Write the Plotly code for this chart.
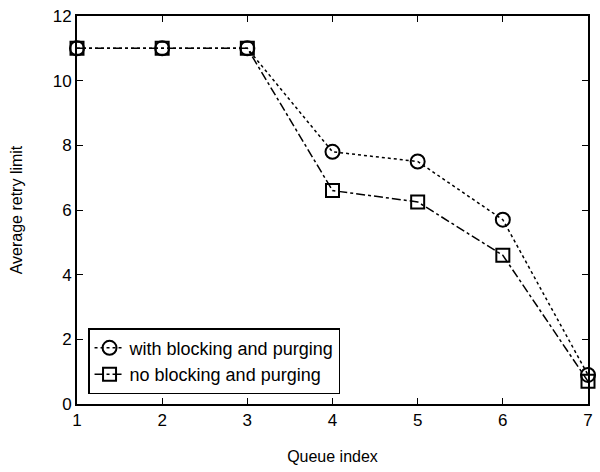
import plotly.graph_objects as go

queue_index = [1, 2, 3, 4, 5, 6, 7]
with_blocking = [11, 11, 11, 7.8, 7.5, 5.7, 0.9]
no_blocking = [11, 11, 11, 6.6, 6.25, 4.6, 0.7]

fig = go.Figure()
fig.add_trace(go.Scatter(
    x=queue_index, y=with_blocking, mode="lines+markers",
    name="with blocking and purging",
    line=dict(color="black", width=1.5, dash="dot"),
    marker=dict(symbol="circle-open", size=14, color="black", line=dict(width=2)),
    cliponaxis=False,
))
fig.add_trace(go.Scatter(
    x=queue_index, y=no_blocking, mode="lines+markers",
    name="no blocking and purging",
    line=dict(color="black", width=1.5, dash="dashdot"),
    marker=dict(symbol="square-open", size=13, color="black", line=dict(width=2)),
    cliponaxis=False,
))

axis_common = dict(
    showgrid=False, zeroline=False, showline=True, linecolor="black", linewidth=1.8,
    mirror="ticks", ticks="inside", ticklen=6, tickcolor="black", tickwidth=1.3,
    tickfont=dict(family="Liberation Sans, Arial", size=17, color="black"),
)
fig.update_layout(
    width=600, height=472,
    margin=dict(l=77, r=7, t=15, b=68),
    paper_bgcolor="white", plot_bgcolor="white",
    font=dict(family="Liberation Sans, Arial", color="black", size=16),
    xaxis=dict(range=[1, 7], tickvals=queue_index, **axis_common,
               title=dict(text="Queue index", font=dict(size=16), standoff=22)),
    yaxis=dict(range=[0, 12], tickvals=[0, 2, 4, 6, 8, 10, 12], **axis_common,
               title=dict(text="Average retry limit", font=dict(size=16), standoff=26)),
    legend=dict(x=0.022, y=0.025, xanchor="left", yanchor="bottom",
                bgcolor="white", bordercolor="black", borderwidth=1.3,
                font=dict(size=18), tracegroupgap=0, itemwidth=30),
    showlegend=True,
)
fig.write_html("out.html")
